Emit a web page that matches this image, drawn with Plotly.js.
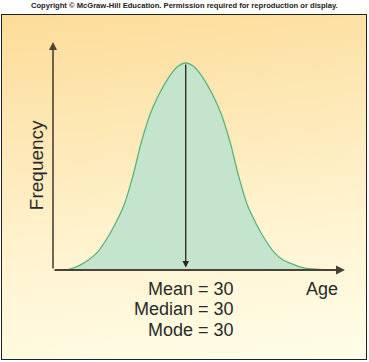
<!DOCTYPE html>
<html>
<head>
<meta charset="utf-8">
<script src="https://cdn.plot.ly/plotly-3.0.1.min.js"></script>
<style>
  html, body { margin: 0; padding: 0; background: #ffffff; }
  #wrap { position: relative; width: 369px; height: 362px; overflow: hidden; background: #ffffff; }
  #box { position: absolute; left: 1px; top: 14px; width: 364px; height: 344px;
         border: 1.5px solid #222; 
         background: linear-gradient(172deg, #fddc98 0%, #fde9b8 35%, #fff4d2 65%, #fffde8 100%); }
  #chart { position: absolute; left: 0; top: 0; width: 369px; height: 362px; }
</style>
</head>
<body>
<div id="wrap">
  <div id="box"></div>
  <div id="chart"></div>
</div>
<script>
// Data (age in years, relative frequency)
const ages      = [2, 4, 6, 8, 10, 12, 14, 16, 18, 20, 22, 24, 26, 28, 30, 32, 34, 36, 38, 40, 42, 44, 46, 48, 50, 52, 54, 56, 58, 60, 62, 64];
const frequency = [0, 0.006, 0.022, 0.048, 0.085, 0.145, 0.22, 0.31, 0.45, 0.62, 0.755, 0.85, 0.925, 0.98, 1.0, 0.98, 0.925, 0.85, 0.755, 0.62, 0.45, 0.31, 0.22, 0.145, 0.085, 0.048, 0.03, 0.014, 0.006, 0.003, 0.001, 0];
const meanAge = 30;
const statLabels = ["Mean = 30", "Median = 30", "Mode = 30"];
const xLabel = "Age";
const yLabel = "Frequency";
const copyright = "Copyright \u00A9 McGraw-Hill Education. Permission required for reproduction or display.";

const xMax = 66;
const yMax = 228 / 207;
const labelFont = { family: "Liberation Sans, Arial, sans-serif", size: 18, color: "#2a2a2a" };

const trace = {
  x: ages, y: frequency, type: "scatter", mode: "lines",
  line: { color: "rgb(92,180,124)", width: 1.3, shape: "spline", smoothing: 1 },
  fill: "tozeroy", fillcolor: "rgb(197,228,205)",
  hoverinfo: "skip"
};

const arrowColor = "#2b2520";
const annotations = [
  // y-axis arrow
  { x: 0, y: yMax, ax: 0, ay: 0, xref: "x", yref: "y", axref: "x", ayref: "y",
    showarrow: true, arrowhead: 2, arrowsize: 1, arrowwidth: 1.6, arrowcolor: "#4a4236", text: "" },
  // x-axis arrow
  { x: xMax, y: 0, ax: 0, ay: 0, xref: "x", yref: "y", axref: "x", ayref: "y",
    showarrow: true, arrowhead: 2, arrowsize: 1, arrowwidth: 1.8, arrowcolor: "#4a4236", text: "" },
  // mean arrow
  { x: meanAge, y: 0.012, ax: meanAge, ay: Math.max(...frequency), xref: "x", yref: "y", axref: "x", ayref: "y",
    showarrow: true, arrowhead: 2, arrowsize: 1, arrowwidth: 1.3, arrowcolor: arrowColor, text: "" },
  { x: -0.058, y: 0.46, xref: "paper", yref: "paper", text: yLabel, textangle: -90, showarrow: false,
    font: Object.assign({}, labelFont, { size: 19 }), xanchor: "center", yanchor: "middle" },
  { x: 0.921, y: -0.083, xref: "paper", yref: "paper", text: xLabel, showarrow: false,
    font: labelFont, xanchor: "center", yanchor: "middle" },
  { x: 0.449, y: 1.158, xref: "paper", yref: "paper", text: "<b>" + copyright + "</b>", showarrow: false,
    font: { family: "Liberation Sans Narrow, Arial Narrow, Liberation Sans, sans-serif", size: 7.6, color: "#222" },
    xanchor: "center", yanchor: "middle" }
];
statLabels.forEach((t, i) => {
  annotations.push({ x: 0.627, y: -0.083 - i * 0.09, xref: "paper", yref: "paper", text: t, showarrow: false,
    font: labelFont, xanchor: "right", yanchor: "middle" });
});

const layout = {
  width: 369, height: 362,
  margin: { l: 53, r: 24, t: 42, b: 92, pad: 0 },
  paper_bgcolor: "rgba(0,0,0,0)", plot_bgcolor: "rgba(0,0,0,0)",
  showlegend: false,
  xaxis: { range: [0, xMax], showgrid: false, zeroline: false, showline: false, showticklabels: false, ticks: "", fixedrange: true },
  yaxis: { range: [0, yMax], showgrid: false, zeroline: false, showline: false, showticklabels: false, ticks: "", fixedrange: true },
  annotations: annotations
};

Plotly.newPlot("chart", [trace], layout, { displayModeBar: false, staticPlot: true });
</script>
</body>
</html>
